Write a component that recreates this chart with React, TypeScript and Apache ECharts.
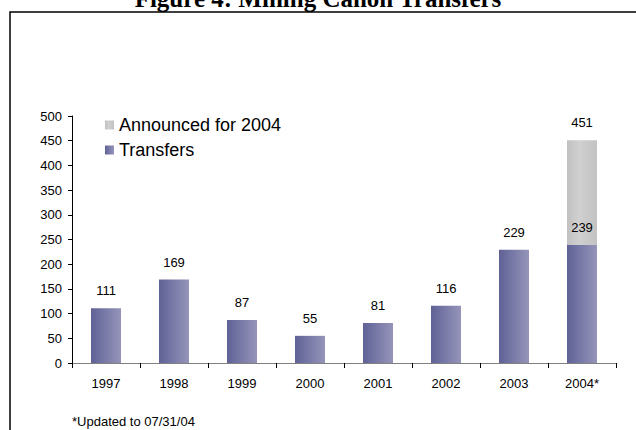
import React, { useEffect, useRef } from "react";
import * as echarts from "echarts";

const categories = ["1997", "1998", "1999", "2000", "2001", "2002", "2003", "2004*"];
const transfers = [111, 169, 87, 55, 81, 116, 229, 239];
const announcedTotals = [null, null, null, null, null, null, null, 451];
const yTicks = { min: 0, max: 500, interval: 50 };

export default function App() {
  const ref = useRef<HTMLDivElement>(null);
  useEffect(() => {
    document.body.style.margin = "0";
    const chart = echarts.init(ref.current!, null, { renderer: "svg" });
    const announcedExtra = announcedTotals.map((t, i) => (t == null ? null : t - transfers[i]));
    const font = "Arial, 'Liberation Sans', sans-serif";
    const purple = new echarts.graphic.LinearGradient(0, 0, 1, 0, [
      { offset: 0, color: "#5f6196" },
      { offset: 1, color: "#9595ba" },
    ]);
    const gray = new echarts.graphic.LinearGradient(0, 0, 1, 0, [
      { offset: 0, color: "#c0c0c0" },
      { offset: 0.4, color: "#d0d0d0" },
      { offset: 1, color: "#c2c2c2" },
    ]);
    chart.setOption({
      animation: false,
      backgroundColor: "#ffffff",
      textStyle: { fontFamily: font },
      graphic: [
        {
          type: "rect",
          shape: { x: 10, y: 12, width: 700, height: 500 },
          style: { fill: "none", stroke: "#000", lineWidth: 1.5 },
          silent: true,
        },
        {
          type: "text",
          x: 318,
          y: -2,
          style: {
            text: "Figure 4: Mining Canon Transfers",
            font: "bold 25px 'Liberation Serif', 'Times New Roman', serif",
            fill: "#000",
            textAlign: "center",
            textVerticalAlign: "middle",
          },
        },
        {
          type: "text",
          x: 72,
          y: 421,
          style: {
            text: "*Updated to 07/31/04",
            font: "13px Arial, 'Liberation Sans', sans-serif",
            fill: "#000",
            textAlign: "left",
            textVerticalAlign: "middle",
          },
        },
      ],
      legend: {
        data: ["Announced for 2004", "Transfers"],
        orient: "vertical",
        left: 105,
        top: 116,
        padding: 0,
        itemWidth: 9,
        itemHeight: 9,
        itemGap: 7,
        icon: "rect",
        textStyle: { fontSize: 18, color: "#000", fontFamily: font },
      },
      grid: { left: 72, right: 20, top: 116, bottom: 67, containLabel: false },
      xAxis: {
        type: "category",
        data: categories,
        axisLine: { lineStyle: { color: "#808080", width: 1 } },
        axisTick: { show: true, length: 5, lineStyle: { color: "#000" } },
        axisLabel: { fontSize: 13, color: "#000", margin: 14, fontFamily: font },
      },
      yAxis: {
        type: "value",
        min: yTicks.min,
        max: yTicks.max,
        interval: yTicks.interval,
        splitLine: { show: false },
        axisLine: { show: true, lineStyle: { color: "#000", width: 1 } },
        axisTick: { show: true, length: 4, lineStyle: { color: "#000" } },
        axisLabel: { fontSize: 13, color: "#000", margin: 10, fontFamily: font },
      },
      series: [
        {
          name: "Transfers",
          type: "bar",
          stack: "a",
          barWidth: 30,
          data: transfers,
          itemStyle: { color: purple },
          label: {
            show: true,
            position: "top",
            distance: 11,
            fontSize: 13,
            color: "#000",
            fontFamily: font,
          },
        },
        {
          name: "Announced for 2004",
          type: "bar",
          stack: "a",
          barWidth: 30,
          data: announcedExtra,
          itemStyle: { color: gray },
          label: {
            show: true,
            position: "top",
            distance: 11,
            fontSize: 13,
            color: "#000",
            fontFamily: font,
            formatter: (p: any) => String(announcedTotals[p.dataIndex] ?? ""),
          },
        },
      ],
    });
    return () => chart.dispose();
  }, []);
  return <div ref={ref} style={{ width: 636, height: 430 }} />;
}
